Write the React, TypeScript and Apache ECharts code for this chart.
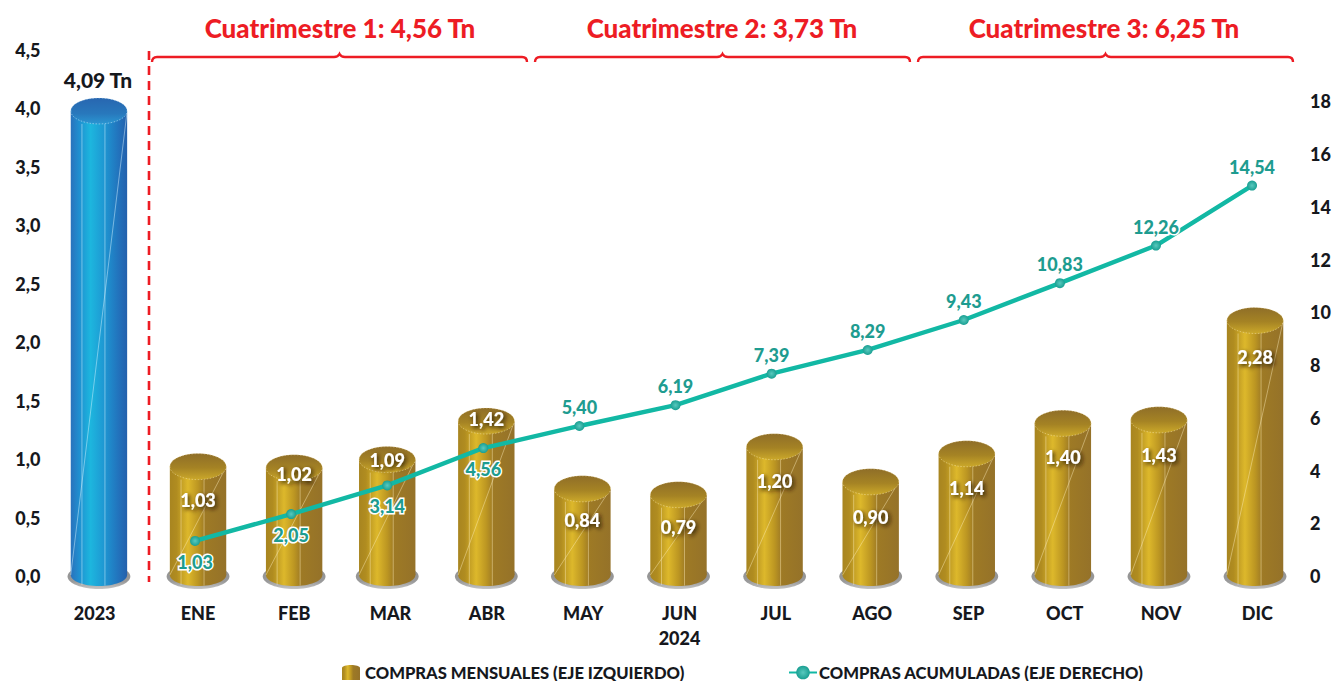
import React, { useEffect, useRef } from "react";
import * as echarts from "echarts";

const categories = ["2023", "ENE", "FEB", "MAR", "ABR", "MAY", "JUN\n2024", "JUL", "AGO", "SEP", "OCT", "NOV", "DIC"];
const annualValue = [4.09];
const monthlyValues = [1.03, 1.02, 1.09, 1.42, 0.84, 0.79, 1.2, 0.9, 1.14, 1.4, 1.43, 2.28];
const cumulativeValues = [1.03, 2.05, 3.14, 4.56, 5.4, 6.19, 7.39, 8.29, 9.43, 10.83, 12.26, 14.54];
const cumulativeBelow = [true, true, true, true, false, false, false, false, false, false, false, false];
const quarterTitles = ["Cuatrimestre 1: 4,56 Tn", "Cuatrimestre 2: 3,73 Tn", "Cuatrimestre 3: 6,25 Tn"];
const leftTicksMax = 4.5;
const rightAxisMax = 19.95;
const lineScaleMax = 20;
const monthlyName = "COMPRAS MENSUALES (EJE IZQUIERDO)";
const cumulativeName = "COMPRAS ACUMULADAS (EJE DERECHO)";

// Vertical drop of each monthly label below the bar top (px) and small horizontal nudges
const labelDrop = [46, 19, 13, 11, 44, 45, 47, 48, 47, 47, 48, 50];
const barNudge = [-3, 0, 0, -3, 0, 0, 0, 0, 0, 0, 0, 0, 0];

const FONT = "Lato, 'Noto Sans', sans-serif";
const RED = "#ED1C24";
const TEAL = "#12B8A4";
const TEAL_TEXT = "#1E9C90";
const INK = "#16181D";

echarts.graphic.registerShape(
  "brace",
  echarts.graphic.extendPath(
    "M0,8 Q0,3 5,3 L182,3 Q186,3 187.5,0 Q189,3 193,3 L370,3 Q375,3 375,8",
    {}
  )
);

const hGrad = (stops: [number, string][]) =>
  new echarts.graphic.LinearGradient(0, 0, 1, 0, stops.map(([offset, color]) => ({ offset, color })));
const vGrad = (stops: [number, string][]) =>
  new echarts.graphic.LinearGradient(0, 0, 0, 1, stops.map(([offset, color]) => ({ offset, color })));

const gold = {
  body: hGrad([[0, "#A88520"], [0.12, "#B08C20"], [0.32, "#DDB82B"], [0.5, "#BC9622"], [0.62, "#9E7A25"], [1, "#957229"]]),
  cap: vGrad([[0, "#8F6E28"], [0.55, "#A58324"], [1, "#CBA82A"]]),
  edge: "rgba(255,240,190,0.55)",
};
const blue = {
  body: hGrad([[0, "#2A72BC"], [0.15, "#1F8FD0"], [0.35, "#1DB6DE"], [0.6, "#1E96D2"], [0.85, "#2272BC"], [1, "#2460AC"]]),
  cap: vGrad([[0, "#2866B0"], [0.6, "#2878BC"], [1, "#2A96D2"]]),
  edge: "rgba(220,245,255,0.6)",
};

function cylinder(params: any, api: any) {
  const idx = api.value(0);
  const v = api.value(1);
  const isAnnual = idx === 0;
  const pal = isAnnual ? blue : gold;
  const [cxRaw, yRaw] = api.coord([idx, v]);
  const [, y0] = api.coord([idx, 0]);
  const cx = cxRaw + barNudge[idx];
  const yTop = isAnnual ? yRaw : yRaw - 2;
  const rx = 28.2;
  const ry = 13;
  const base = y0 - 1;
  const capY = yTop + ry;
  const pale = { stroke: pal.edge, lineWidth: 0.8, fill: "none" };
  const children: any[] = [
    {
      type: "ellipse",
      shape: { cx, cy: base + 1.5, rx: rx + 3.2, ry: ry - 0.5 },
      style: { fill: vGrad([[0, "#8E8E8E"], [0.7, "#9A9A9A"], [1, "#C6C6C6"]]) },
    },
    { type: "ellipse", shape: { cx, cy: base, rx, ry: 11 }, style: { fill: pal.body } },
    { type: "rect", shape: { x: cx - rx, y: capY, width: rx * 2, height: base - capY }, style: { fill: pal.body } },
    { type: "line", shape: { x1: cx - 17, y1: capY + ry, x2: cx - 17, y2: base + 10 }, style: pale },
    { type: "line", shape: { x1: cx + 6, y1: capY + ry, x2: cx + 6, y2: base + 10.5 }, style: pale },
    { type: "line", shape: { x1: cx - rx, y1: base, x2: cx + rx, y2: capY }, style: pale },
    {
      type: "ellipse",
      shape: { cx, cy: capY, rx, ry },
      style: { fill: pal.cap, stroke: pal.edge, lineWidth: 0.8, lineDash: [1.5, 1.5] },
    },
  ];
  if (isAnnual) {
    children.push({
      type: "text",
      style: {
        text: "4,09 Tn",
        x: cx - 1,
        y: yTop - 18,
        fill: INK,
        font: `900 21px ${FONT}`,
        textAlign: "center",
        textVerticalAlign: "middle",
      },
    });
  } else {
    children.push({
      type: "text",
      style: {
        text: v.toFixed(2).replace(".", ","),
        x: cx,
        y: yTop + labelDrop[idx - 1],
        fill: "#FFFFFF",
        font: `900 18px ${FONT}`,
        textAlign: "center",
        textVerticalAlign: "middle",
        textShadowColor: "rgba(40,25,0,0.95)",
        textShadowBlur: 4,
        textShadowOffsetX: 2,
        textShadowOffsetY: 2,
      },
    });
  }
  return { type: "group", children };
}

export default function App() {
  const ref = useRef<HTMLDivElement>(null);
  useEffect(() => {
    const chart = echarts.init(ref.current!, undefined, { renderer: "svg" });
    const titleCenters = [340, 722, 1104];
    const braceLefts = [152, 535, 918];
    const axisBase = {
      type: "category" as const,
      data: categories,
      axisLine: { show: false },
      axisTick: { show: false },
    };
    chart.setOption({
      animation: false,
      backgroundColor: "#FFFFFF",
      grid: [
        { left: 53.5, width: 1252, top: 50, height: 526, outerBoundsMode: "none" },
        { left: 53.9, width: 1249.2, top: 50, height: 526, outerBoundsMode: "none" },
        { left: 50.9, width: 1249.2, top: 42, height: 526, outerBoundsMode: "none" },
      ],
      xAxis: [
        {
          ...axisBase,
          gridIndex: 0,
          axisLabel: {
            margin: 24,
            color: INK,
            fontFamily: FONT,
            fontWeight: 900,
            fontSize: 18,
            lineHeight: 25,
            interval: 0,
            formatter: (v: string) => (v === "2023" ? `{y|${v}}` : v),
            rich: { y: { padding: [0, 14, 0, 0], color: INK, fontFamily: FONT, fontWeight: 900, fontSize: 18 } },
          },
        },
        { ...axisBase, gridIndex: 1, axisLabel: { show: false } },
        { ...axisBase, gridIndex: 2, axisLabel: { show: false } },
      ],
      yAxis: [
        {
          type: "value",
          gridIndex: 0,
          min: 0,
          max: leftTicksMax,
          interval: 0.5,
          splitLine: { show: false },
          axisLine: { show: false },
          axisTick: { show: false },
          axisLabel: {
            margin: 13,
            color: INK,
            fontFamily: FONT,
            fontWeight: 900,
            fontSize: 18,
            formatter: (v: number) => v.toFixed(1).replace(".", ","),
          },
        },
        {
          type: "value",
          gridIndex: 0,
          position: "right",
          min: 0,
          max: rightAxisMax,
          interval: 2,
          splitLine: { show: false },
          axisLine: { show: false },
          axisTick: { show: false },
          axisLabel: {
            margin: 4.5,
            showMaxLabel: false,
            color: INK,
            fontFamily: FONT,
            fontWeight: 900,
            fontSize: 18,
          },
        },
        { type: "value", gridIndex: 1, min: 0, max: leftTicksMax, show: false },
        { type: "value", gridIndex: 2, min: 0, max: lineScaleMax, show: false },
      ],
      legend: [
        {
          data: [{ name: monthlyName, icon: "path://M0,3 C0,-1 18,-1 18,3 L18,15 L0,15 Z", itemStyle: { color: gold.body } }],
          left: 342,
          top: 664,
          padding: 0,
          itemWidth: 18,
          itemHeight: 17,
          itemGap: 8,
          textStyle: { color: INK, fontFamily: FONT, fontWeight: 900, fontSize: 16.6 },
        },
        {
          data: [{ name: cumulativeName }],
          left: 788,
          top: 664,
          padding: 0,
          itemWidth: 28,
          itemHeight: 17,
          itemGap: 2,
          textStyle: { color: INK, fontFamily: FONT, fontWeight: 900, fontSize: 16.6, padding: [0, 0, 0, -3] },
        },
      ],
      series: [
        {
          name: "2023",
          type: "custom",
          xAxisIndex: 1,
          yAxisIndex: 2,
          clip: false,
          z: 2,
          renderItem: cylinder,
          data: annualValue.map((v) => [0, v]),
        },
        {
          name: monthlyName,
          type: "custom",
          xAxisIndex: 1,
          yAxisIndex: 2,
          clip: false,
          z: 2,
          itemStyle: { color: "#C09A22" },
          renderItem: cylinder,
          data: monthlyValues.map((v, i) => [i + 1, v]),
        },
        {
          name: cumulativeName,
          type: "line",
          xAxisIndex: 2,
          yAxisIndex: 3,
          z: 5,
          symbol: "circle",
          symbolSize: 10,
          lineStyle: { color: TEAL, width: 4.4 },
          itemStyle: {
            color: new echarts.graphic.RadialGradient(0.5, 0.5, 0.5, [
              { offset: 0, color: "#58C9BE" },
              { offset: 1, color: "#1A9F92" },
            ]),
          },
          data: cumulativeValues.map((v, i) => ({
            value: [i + 1, v],
            label: {
              show: true,
              position: cumulativeBelow[i] ? "bottom" : "top",
              distance: cumulativeBelow[i] ? 7 : 5,
              formatter: v.toFixed(2).replace(".", ","),
              color: TEAL_TEXT,
              fontFamily: FONT,
              fontWeight: 900,
              fontSize: 18,
              textBorderColor: "#FFFFFF",
              textBorderWidth: 3,
            },
          })),
        },
      ],
      graphic: [
        {
          type: "line",
          shape: { x1: 149, y1: 51, x2: 149, y2: 582 },
          style: { stroke: RED, lineWidth: 2.6, lineDash: [9, 6] },
        },
        ...braceLefts.map((x) => ({
          type: "brace",
          x,
          y: 54,
          style: { stroke: RED, fill: "none", lineWidth: 2.4 },
        })),
        ...quarterTitles.map((text, i) => ({
          type: "text",
          x: titleCenters[i],
          y: 28,
          style: {
            text,
            fill: RED,
            font: `900 26px ${FONT}`,
            textAlign: "center",
            textVerticalAlign: "middle",
          },
        })),
      ],
    });
    return () => chart.dispose();
  }, []);
  return (
    <div
      ref={ref}
      style={{ position: "fixed", left: 0, top: 0, width: 1332, height: 681, background: "#fff" }}
    />
  );
}
